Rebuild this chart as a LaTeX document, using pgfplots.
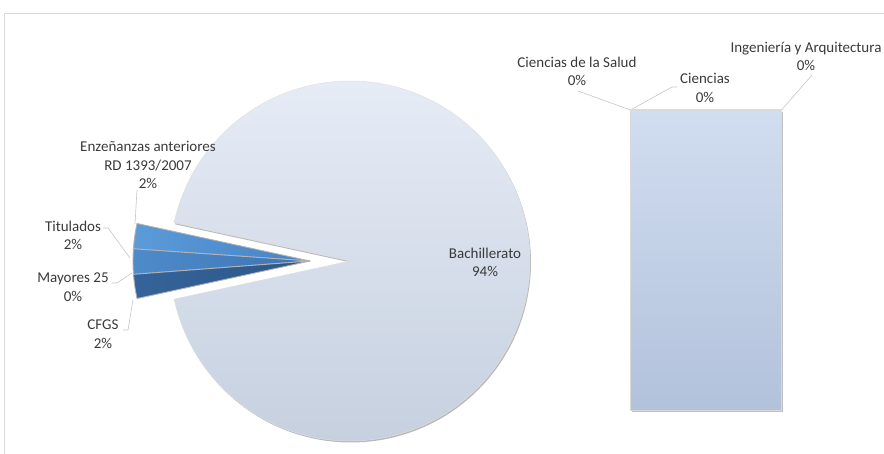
\documentclass[border=0pt]{standalone}
\usepackage{pgfplots}
\pgfplotsset{compat=1.18}
\usepackage{fontspec}
\setmainfont{Carlito}
\definecolor{txt}{HTML}{3A3A3A}
\definecolor{pieTop}{HTML}{E6ECF6}
\definecolor{pieBot}{HTML}{C6D0DF}
\definecolor{barTop}{HTML}{D1DDF0}
\definecolor{barBot}{HTML}{B2C2DB}
\definecolor{eL}{HTML}{5B9BD8}
\definecolor{eR}{HTML}{4683C8}
\definecolor{tL}{HTML}{4E8BCB}
\definecolor{tR}{HTML}{3D74B4}
\definecolor{cL}{HTML}{35649A}
\definecolor{cR}{HTML}{2C5688}
\definecolor{frame}{HTML}{D9D9D9}
\begin{document}
\begin{tikzpicture}[lbl/.style={font=\fontsize{15bp}{18.5bp}\selectfont, text=txt, align=center, inner sep=0pt}]
% data (percent)
\pgfmathsetmacro{\pBach}{93.2}
\pgfmathsetmacro{\pEnz}{2.3}
\pgfmathsetmacro{\pTit}{2.3}
\pgfmathsetmacro{\pMay}{0.0}
\pgfmathsetmacro{\pCFGS}{2.2}
% angles (degrees, counter-clockwise)
\pgfmathsetmacro{\aA}{180-1.8*(100-\pBach)}
\pgfmathsetmacro{\aB}{\aA+3.6*\pEnz}
\pgfmathsetmacro{\aC}{\aB+3.6*\pTit}
\pgfmathsetmacro{\aD}{\aC+3.6*\pMay}
\pgfmathsetmacro{\aE}{\aD+3.6*\pCFGS}
\pgfmathsetmacro{\bStart}{\aE-360}
\begin{axis}[at={(0,0)}, anchor=south west, width=884bp, height=454bp, scale only axis,
  xmin=0, xmax=884, ymin=0, ymax=454, y dir=reverse, hide axis, clip=false]
% frame
\addplot[frame, line width=0.8pt] coordinates {(4.5,454) (4.5,13.5) (884,13.5)};
% pie shadow
\addplot[fill=gray!55, draw=none, domain=\bStart:\aA, samples=140] ({351+180*cos(x)},{262.5-180*sin(x)}) -- (axis cs:351,262.5) -- cycle;
% Bachillerato
\addplot[top color=pieTop, bottom color=pieBot, draw=gray!25, line width=0.5pt, domain=\bStart:\aA, samples=140] ({350+180*cos(x)},{261-180*sin(x)}) -- (axis cs:350,261) -- cycle;
% exploded slices
\addplot[left color=eL, right color=eR, draw=gray!60, line width=0.9pt, domain=\aA:\aB, samples=20] ({310+177*cos(x)},{261-177*sin(x)}) -- (axis cs:310,261) -- cycle;
\addplot[left color=tL, right color=tR, draw=gray!60, line width=0.9pt, domain=\aB:\aC, samples=20] ({310+177*cos(x)},{261-177*sin(x)}) -- (axis cs:310,261) -- cycle;
\addplot[left color=cL, right color=cR, draw=gray!60, line width=0.9pt, domain=\aD:\aE, samples=20] ({310+177*cos(x)},{261-177*sin(x)}) -- (axis cs:310,261) -- cycle;
% bar shadow
\addplot[gray!50, line width=1.3pt] coordinates {(632,411.2) (782,411.2) (782,112)};
% leader lines
\addplot[gray!45, line width=0.6pt] coordinates {(137,190) (135,224)};
\addplot[gray!45, line width=0.6pt] coordinates {(103,228) (108,228) (130,258)};
\addplot[gray!45, line width=0.6pt] coordinates {(112,283) (117,283) (132,273)};
\addplot[gray!45, line width=0.6pt] coordinates {(123,330) (128,330) (133,300)};
\addplot[gray!45, line width=0.6pt] coordinates {(578,91) (630.5,110)};
\addplot[gray!45, line width=0.6pt] coordinates {(677,87) (672,87) (630.5,110)};
\addplot[gray!45, line width=0.6pt] coordinates {(812,75) (781.5,110)};
% labels
\node[lbl] at (axis cs:148,165) {Enzeñanzas anteriores\\RD 1393/2007\\2\%};
\node[lbl] at (axis cs:73,235.5) {Titulados\\2\%};
\node[lbl] at (axis cs:73,287) {Mayores 25\\0\%};
\node[lbl] at (axis cs:103,334) {CFGS\\2\%};
\node[lbl] at (axis cs:485,262.5) {Bachillerato\\94\%};
\node[lbl] at (axis cs:577,71.5) {Ciencias de la Salud\\0\%};
\node[lbl] at (axis cs:705,88) {Ciencias\\0\%};
\node[lbl] at (axis cs:806,56.5) {Ingeniería y Arquitectura\\0\%};
\end{axis}
\begin{axis}[at={(630.5bp,43.5bp)}, anchor=south west, width=151bp, height=300.5bp, scale only axis,
  xmin=-0.5, xmax=0.5, ymin=0, ymax=94, hide axis, ybar stacked, bar width=1, clip=false]
\addplot[top color=barTop, bottom color=barBot, draw=gray!30, line width=0.4pt] coordinates {(0,94)};
\addplot[draw=none, fill=none] coordinates {(0,0)};
\addplot[draw=none, fill=none] coordinates {(0,0)};
\addplot[draw=none, fill=none] coordinates {(0,0)};
\node[lbl] at (axis cs:0,47) {Desconocido\\94\%};
\end{axis}
\pgfresetboundingbox
\path (0,0) rectangle (884bp,454bp);
\end{tikzpicture}
\end{document}
